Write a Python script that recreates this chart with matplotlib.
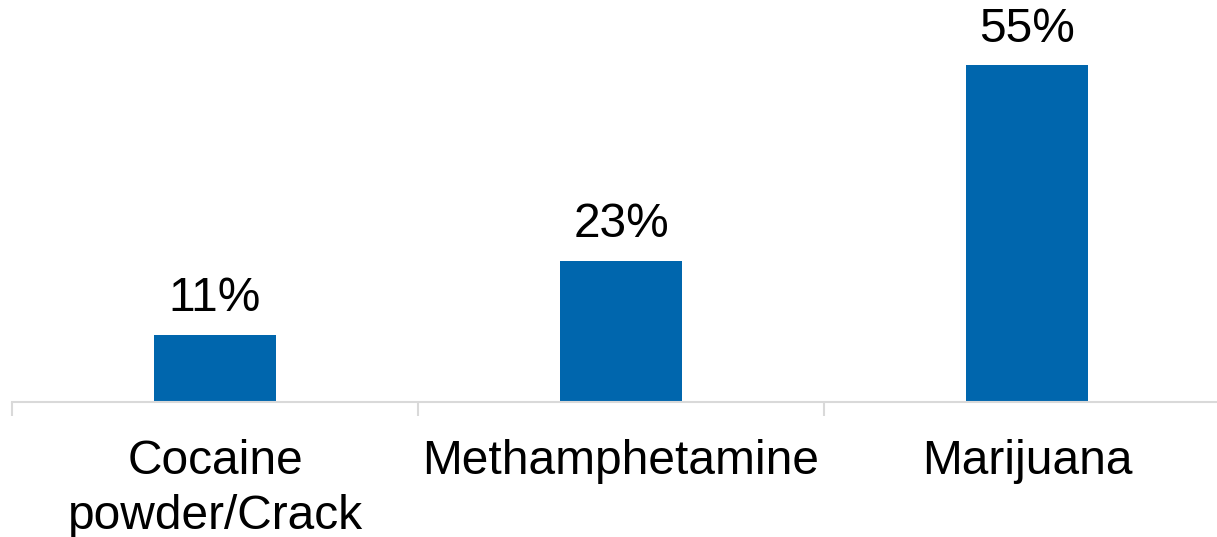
import numpy as np
import matplotlib.pyplot as plt

# Données : part des cas par drogue (%)
drogues = ["Cocaine\npowder/Crack", "Methamphetamine", "Marijuana"]
pourcentages = [11, 23, 55]

plt.rcParams["font.family"] = ["Liberation Sans", "DejaVu Sans"]

fig = plt.figure(figsize=(12.17, 5.37), dpi=100)
ax = fig.add_axes([12/1217, 135/537, 1218/1217, 402/537])

x = np.arange(len(drogues))
barres = ax.bar(x, pourcentages, width=0.30, color="#0066ad")

# Étiquettes de valeur au-dessus des barres
for b, v in zip(barres, pourcentages):
    ax.annotate(f"{v}%", (b.get_x() + b.get_width()/2, v),
                xytext=(0, 10), textcoords="offset points",
                ha="center", va="bottom", fontsize=34.5)

ax.set_xlim(-0.5, 2.5)
ax.set_ylim(0, 65.7)

# Axe horizontal gris, graduations entre les catégories
for s in ["top", "right", "left"]:
    ax.spines[s].set_visible(False)
ax.spines["bottom"].set_color("#d9d9d9")
ax.spines["bottom"].set_linewidth(1.5)
ax.set_yticks([])
ax.set_xticks(x)
ax.set_xticklabels(drogues, fontsize=34.5, linespacing=1.27, va="top")
ax.tick_params(axis="x", which="major", length=0, pad=27)
ax.set_xticks(np.arange(-0.5, 3, 1), minor=True)
ax.tick_params(axis="x", which="minor", length=10, width=1.5, color="#d9d9d9")

fig.savefig("out.png", dpi=100)
